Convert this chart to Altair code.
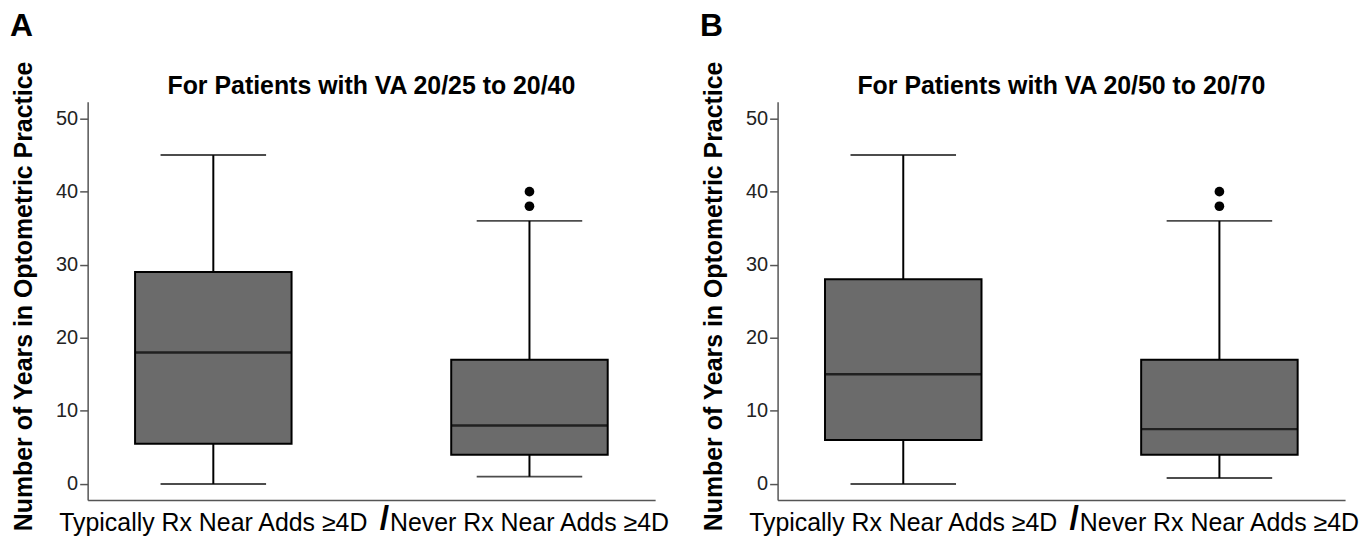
import altair as alt
import pandas as pd

FONT = "Liberation Sans"

groups = ["Typically Rx Near Adds \u22654D", "Never Rx Near Adds \u22654D"]

# Panel A: VA 20/25 to 20/40
a_lower = [0, 1]
a_q1 = [5.5, 4]
a_median = [18, 8]
a_q3 = [29, 17]
a_upper = [45, 36]
a_outliers = [38, 40]

# Panel B: VA 20/50 to 20/70
b_lower = [0, 0.8]
b_q1 = [6, 4]
b_median = [15, 7.5]
b_q3 = [28, 17]
b_upper = [45, 36]
b_outliers = [38, 40]

panel_letters = ["A", "B"]
panel_titles = ["For Patients with VA 20/25 to 20/40", "For Patients with VA 20/50 to 20/70"]
y_title = "Number of Years in Optometric Practice"
y_ticks = [0, 10, 20, 30, 40, 50]


def panel(letter, title, lower, q1, median, q3, upper, outliers):
    df = pd.DataFrame({"group": groups, "lower": lower, "q1": q1, "median": median,
                       "q3": q3, "upper": upper})
    out = pd.DataFrame({"group": [groups[1]] * len(outliers), "value": outliers})

    xaxis = alt.Axis(title=None, labelFontSize=25, labelFont=FONT, labelColor="black",
                     ticks=False, tickSize=0, domainColor="#555555", domainWidth=1.5,
                     labelPadding=11, labelLimit=400, labelOverlap=False, labelAngle=0)
    xscale = alt.Scale(paddingInner=0.505, paddingOuter=0.15)
    yaxis = alt.Axis(title=y_title, values=y_ticks, grid=False, titleFontSize=25,
                     titleFont=FONT, titleFontWeight="bold", titleColor="black",
                     titleY=195,
                     labelFontSize=20, labelFont=FONT, labelColor="#222222",
                     tickSize=8, tickColor="#555555", tickWidth=1.5,
                     domainColor="#555555", domainWidth=1.5, labelPadding=2,
                     titlePadding=19)
    yscale = alt.Scale(domain=[-2.2, 52.3], nice=False, zero=False)

    def X():
        return alt.X("group:N", sort=groups, scale=xscale, axis=xaxis)

    def Y(field):
        return alt.Y(field, type="quantitative", scale=yscale, axis=yaxis)

    base = alt.Chart(df)
    whisk_lo = base.mark_rule(color="black", strokeWidth=2).encode(
        x=X(), y=Y("lower"), y2="q1:Q")
    whisk_hi = base.mark_rule(color="black", strokeWidth=2).encode(
        x=X(), y=Y("q3"), y2="upper:Q")
    box = base.mark_bar(color="#6b6b6b", stroke="black", strokeWidth=2).encode(
        x=X(), y=Y("q1"), y2="q3:Q")
    med = base.mark_tick(color="black", size=157, thickness=2.5).encode(
        x=X(), y=Y("median"))
    cap_lo = base.mark_tick(color="black", size=106, thickness=2).encode(
        x=X(), y=Y("lower"))
    cap_hi = base.mark_tick(color="black", size=106, thickness=2).encode(
        x=X(), y=Y("upper"))
    pts = alt.Chart(out).mark_circle(size=95, color="black", opacity=1).encode(
        x=X(), y=Y("value"))

    letter_t = alt.Chart(pd.DataFrame({"t": [letter]})).mark_text(
        fontSize=32, fontWeight="bold", font=FONT, align="left",
        baseline="alphabetic", color="black").encode(
        text="t:N", x=alt.value(-78), y=alt.value(-66))
    title_t = alt.Chart(pd.DataFrame({"t": [title]})).mark_text(
        fontSize=25, fontWeight="bold", font=FONT, align="center",
        baseline="alphabetic", color="black").encode(
        text="t:N", x=alt.value(285), y=alt.value(-8))
    slash_t = alt.Chart(pd.DataFrame({"t": ["/"]})).mark_text(
        fontSize=34, fontWeight="bold", font=FONT, align="center",
        baseline="alphabetic", color="black").encode(
        text="t:N", x=alt.value(298), y=alt.value(429))

    return alt.layer(whisk_lo, whisk_hi, box, med, cap_lo, cap_hi, pts,
                     letter_t, title_t, slash_t).properties(width=570, height=400)


pA = panel(panel_letters[0], panel_titles[0], a_lower, a_q1, a_median, a_q3, a_upper, a_outliers)
pB = panel(panel_letters[1], panel_titles[1], b_lower, b_q1, b_median, b_q3, b_upper, b_outliers)

chart = alt.hconcat(pA, pB, spacing=30).properties(
    padding={"left": 2, "top": 1, "right": 2, "bottom": 6},
    background="white",
).configure_view(stroke=None, strokeWidth=0)

chart.save("out.html", embed_options={"renderer": "svg", "actions": False})
